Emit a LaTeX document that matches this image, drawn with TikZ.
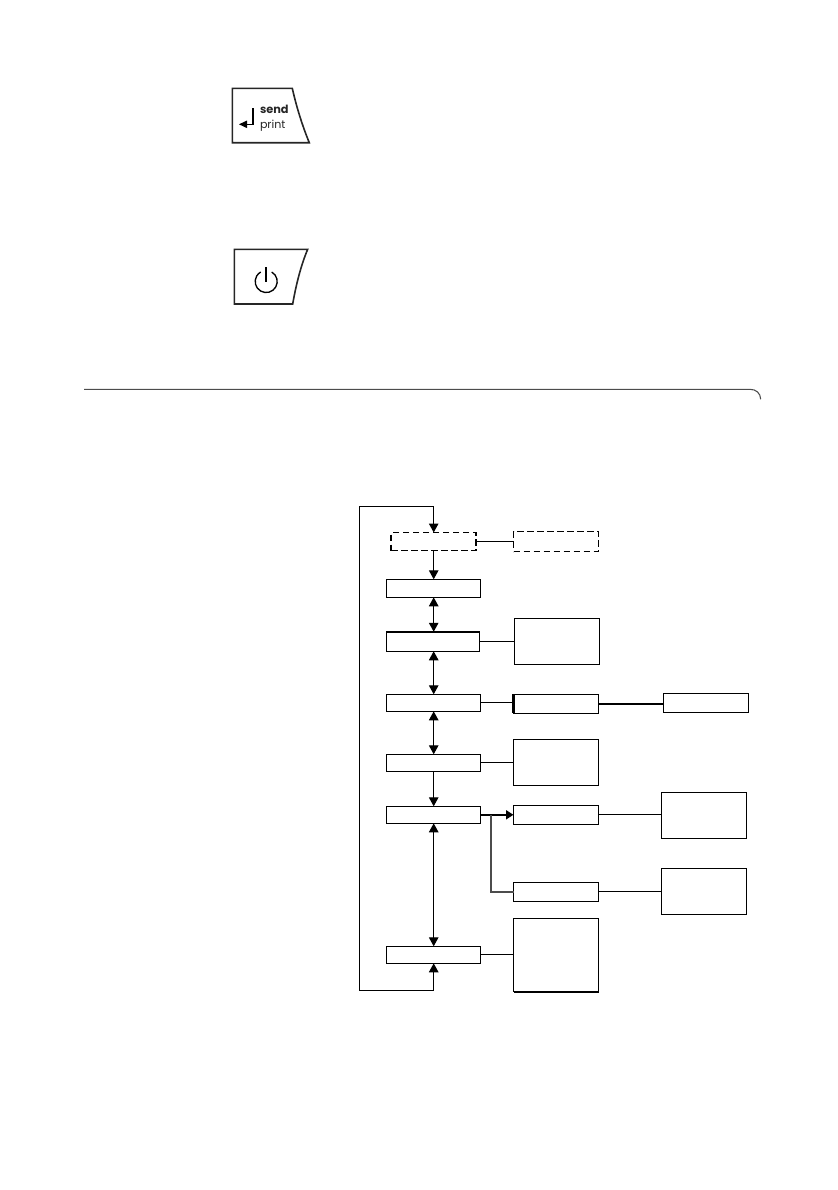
\documentclass[tikz,border=0pt]{standalone}
\usepackage{fontspec}
\setmainfont{Poppins}
\usetikzlibrary{arrows.meta}
\def\px{0.75pt}
\tikzset{
  x=0.75pt, y=-0.75pt,
  box/.style={draw=black, line width=0.9pt, fill=white, inner sep=0pt, outer sep=0pt, minimum width=94*\px, minimum height=17*\px},
  rbox/.style={box, minimum width=85*\px, minimum height=19*\px},
  tall/.style={box, minimum width=85*\px, minimum height=46*\px},
  dash box/.style={line width=1.1pt, dash pattern=on 6.5*\px off 3.5*\px},
  link/.style={draw=black, line width=0.9pt},
  thicklink/.style={draw=black, line width=1.6pt},
  flow/.style={link, {Triangle[length=9*\px,width=9.5*\px]}-{Triangle[length=9*\px,width=9.5*\px]}},
  flowto/.style={link, -{Triangle[length=9*\px,width=9.5*\px]}},
  keyline/.style={draw=black!85, line width=1.2pt, line join=miter},
  keytext/.style={inner sep=0pt, outer sep=0pt, anchor=base west, font=\fontsize{8.5pt}{10pt}\selectfont, text=black!85},
}
\begin{document}
\begin{tikzpicture}
\useasboundingbox (0,0) rectangle (838,1190);
% send key
\draw[keyline] (232.3,88.3) -- (292.3,88.3) .. controls (296,105) and (302,125) .. (309.3,142.7) -- (232.3,142.7) -- cycle;
\draw[draw=black, line width=0.8pt] (253,108.3) -- (253,124.5) -- (246,124.5);
\fill[black] (239,124.3) -- (247,120.5) -- (247,128.1) -- cycle;
\node[keytext, font=\fontsize{8.5pt}{10pt}\selectfont\bfseries] (send) at (260,113) {send};
\node[keytext, font=\fontsize{8.3pt}{10pt}\selectfont\fontseries{l}\selectfont] (print) at (260,128) {print};
% power key
\draw[keyline] (234.3,249.3) -- (307.7,249.3) .. controls (301,265) and (296,285) .. (292.7,304) -- (234.3,304) -- cycle;
\draw[draw=black, line width=1pt] (271.7,272) arc[start angle=60, delta angle=-300, radius=11*\px];
\draw[draw=black, line width=1pt] (266,267) -- (266,282);
% section rule
\draw[draw=black!70, line width=0.8pt] (84,389.3) -- (750,389.3) .. controls (756,389.3) and (760.5,393) .. (760.7,399.3);

% left column
\node[box, dash box, minimum width=85*\px, minimum height=18*\px] (da) at (433.7,541.5) {};
\node[box, minimum height=18*\px] (b1) at (433.3,588.3) {};
\node[box, minimum width=93*\px, minimum height=19.5*\px] (b2) at (432.8,641.5) {};
\node[box] (b3) at (433.3,702.8) {};
\node[box] (b4) at (433.3,762.8) {};
\node[box] (b5) at (433.3,814.8) {};
\node[box] (b7) at (433.3,954.8) {};
% right column
\node[rbox, dash box, minimum height=20*\px] (db) at (556,541.5) {};
\node[tall] (r2) at (556.8,641.3) {};
\node[rbox] (r3) at (556,703.8) {};
\node[rbox] (r3b) at (706,703.3) {};
\node[tall] (r4) at (556,762.3) {};
\node[rbox] (r5) at (556,814.8) {};
\node[tall] (r5b) at (704,815.3) {};
\node[rbox] (r6) at (556,891.8) {};
\node[tall] (r6b) at (704,891.3) {};
\node[box, minimum width=85*\px, minimum height=73.4*\px] (r7) at (556,955) {};
% heavier edges
\draw[thicklink] (b2.north west) -- (b2.north east);
\draw[thicklink] (r3.north west) -- (r3.south west);
\draw[thicklink] (r7.south west) -- (r7.south east);

% flow arrows
\coordinate (lb) at (359.7,990.7);
\coordinate (lt) at (359.7,506.4);
\draw[flow] (b7.south -| da.north) |- (lb) -- (lt) -| (da.north);
\draw[flowto] (da.south) -- (da.south |- b1.north);
\draw[flow] (da.south |- b1.south) -- (da.south |- b2.north);
\draw[flow] (da.south |- b2.south) -- (da.south |- b3.north);
\draw[flow] (da.south |- b3.south) -- (da.south |- b4.north);
\draw[flowto] (da.south |- b4.south) -- (da.south |- b5.north);
\draw[flow] (da.south |- b5.south) -- (da.south |- b7.north);
% side links
\draw[link] (da.east) -- (db.west |- da.east);
\draw[link] (b2.east) -- (r2.west |- b2.east);
\draw[link] (b3.east) -- (r3.west |- b3.east);
\draw[thicklink] (r3.east) -- (r3b.west |- r3.east);
\draw[link] (b4.east) -- (r4.west |- b4.east);
\draw[thicklink, -{Triangle[length=7.5*\px,width=9*\px]}] (b5.east) -- (r5.west);
\coordinate (branch) at (491,814.8);
\draw[draw=black!70, line width=1.2pt] (branch) |- (r6.west);
\draw[link] (r5.east) -- (r5b.west |- r5.east);
\draw[link] (r6.east) -- (r6b.west |- r6.east);
\draw[link] (b7.east) -- (r7.west |- b7.east);
\end{tikzpicture}
\end{document}
